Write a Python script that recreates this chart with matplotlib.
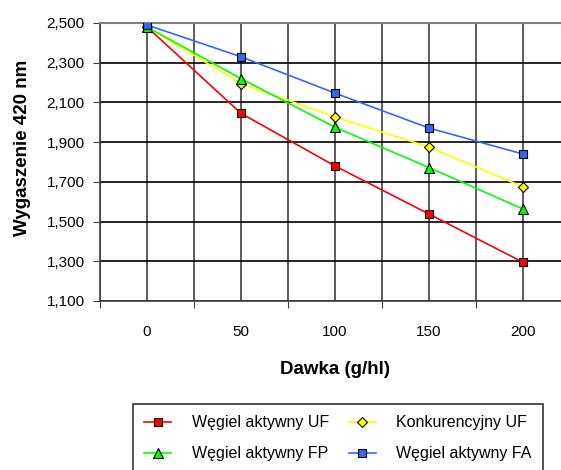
import numpy as np
import matplotlib
matplotlib.use("Agg")
import matplotlib.pyplot as plt
from matplotlib.legend_handler import HandlerLine2D

plt.rcParams['font.family'] = ['Liberation Sans', 'DejaVu Sans']

doses = ['0', '50', '100', '150', '200']
ytick_vals = [1.1, 1.3, 1.5, 1.7, 1.9, 2.1, 2.3, 2.5]
ytick_labels = ['1,100', '1,300', '1,500', '1,700', '1,900', '2,100', '2,300', '2,500']

wegiel_uf = [2.48, 2.045, 1.78, 1.538, 1.295]
konkur_uf = [2.48, 2.195, 2.027, 1.875, 1.675]
wegiel_fp = [2.48, 2.22, 1.975, 1.772, 1.563]
wegiel_fa = [2.49, 2.33, 2.147, 1.971, 1.84]


class OffsetMarker(HandlerLine2D):
    # excel style legend key: marker sits off-centre on the line
    def __init__(self, frac, **kw):
        super().__init__(**kw)
        self.frac = frac

    def get_xdata(self, legend, xdescent, ydescent, width, height, fontsize):
        xdata = np.array([-xdescent, -xdescent + width])
        return xdata, np.array([-xdescent + self.frac * width])


fig = plt.figure(figsize=(5.61, 4.70), dpi=100)
ax = fig.add_axes([100/561, 1-301/470, 470/561, 278/470])

x = np.arange(len(doses))
l_uf, = ax.plot(x, wegiel_uf, color='#ff0000', lw=1.2, marker='s', ms=6, mfc='#ff0000', mec='black', mew=0.8, label='Węgiel aktywny UF', zorder=3)
l_ko, = ax.plot(x, konkur_uf, color='#ffff00', lw=1.2, marker='D', ms=5, mfc='#ffff00', mec='black', mew=0.8, label='Konkurencyjny UF', zorder=3)
l_fp, = ax.plot(x, wegiel_fp, color='#00ff00', lw=1.2, marker='^', ms=6.5, mfc='#00ff00', mec='black', mew=0.8, label='Węgiel aktywny FP', zorder=3)
l_fa, = ax.plot(x, wegiel_fa, color='#3366ff', lw=1.2, marker='s', ms=6, mfc='#3366ff', mec='black', mew=0.8, label='Węgiel aktywny FA', zorder=3)

ax.set_xlim(-0.5, 4.5)
ax.set_ylim(1.1, 2.5)
ax.set_yticks(ytick_vals)
ax.set_yticklabels(ytick_labels, fontsize=11)

# category boundaries carry the tick marks, centres carry labels
ax.set_xticks(np.arange(-0.5, 5, 1.0))
ax.set_xticklabels([])
ax.set_xticks(x, minor=True)
ax.set_xticklabels(doses, minor=True, fontsize=11)
ax.tick_params(axis='x', which='major', direction='out', length=5, color='#404040')
ax.tick_params(axis='x', which='minor', length=0, pad=17)
ax.tick_params(axis='y', direction='out', length=5, color='#404040', pad=6)

ax.grid(True, axis='y', color='black', lw=1.2)
ax.grid(True, axis='x', which='both', color='#404040', lw=1.2)
ax.set_axisbelow(True)

for s in ['top', 'right']:
    ax.spines[s].set_color('#808080')
    ax.spines[s].set_linewidth(1.5)
ax.spines['left'].set_color('#404040')
ax.spines['bottom'].set_color('#404040')
ax.spines['left'].set_linewidth(1.2)
ax.spines['bottom'].set_linewidth(1.2)

ax.set_xlabel('Dawka (g/hl)', fontsize=13.5, fontweight='bold', labelpad=16)
ax.set_ylabel('Wygaszenie 420 nm', fontsize=13.5, fontweight='bold')
ax.yaxis.set_label_coords(-0.147, 0.55)

# column-wise fill: UF, FP in column 1; Konkurencyjny, FA in column 2
leg = fig.legend([l_uf, l_fp, l_ko, l_fa],
                 [l_uf.get_label(), l_fp.get_label(), l_ko.get_label(), l_fa.get_label()],
                 ncol=2, loc='upper left',
                 bbox_to_anchor=(133/561, 1-404/470), fontsize=11.5,
                 frameon=True, fancybox=False, edgecolor='black',
                 handlelength=1.7, columnspacing=1.2, labelspacing=1.0,
                 borderpad=0.7, handletextpad=1.3, borderaxespad=0,
                 handler_map={l_uf: OffsetMarker(0.72), l_fp: OffsetMarker(0.72),
                              l_ko: OffsetMarker(0.25), l_fa: OffsetMarker(0.25)})
leg.get_frame().set_linewidth(1.2)

fig.savefig('out.png', dpi=100)
